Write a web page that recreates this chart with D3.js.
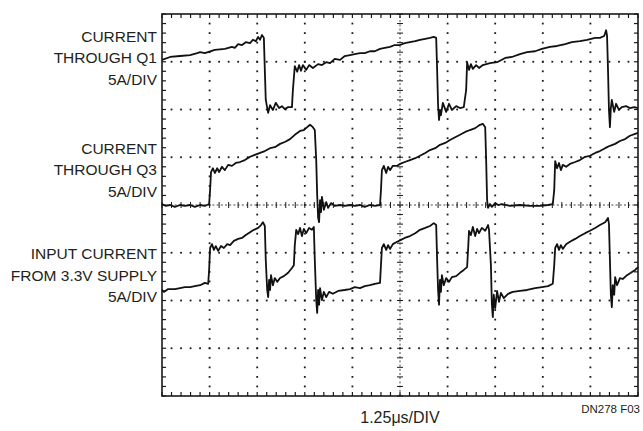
<!DOCTYPE html>
<html><head><meta charset="utf-8">
<script src="https://cdn.jsdelivr.net/npm/d3@7"></script>
<style>
html,body{margin:0;padding:0;background:#fff;}
svg{display:block;}
text{font-family:"Liberation Sans Narrow","Liberation Sans",Arial,sans-serif;fill:#231f20;}
</style></head>
<body><svg id="c" width="643" height="431"></svg>
<script>
// Time in divisions (1.25 µs/DIV, 10 divisions), level in divisions from bottom (8 divisions, 5A/DIV)
const xDivs = 10, yDivs = 8, minorPerDiv = 5;

const q1Trace = [[0.00,7.04],[0.17,7.10],[0.38,7.12],[0.59,7.14],[0.74,7.18],[0.80,7.20],[0.90,7.18],[1.11,7.25],[1.32,7.27],[1.47,7.31],[1.53,7.29],[1.60,7.37],[1.68,7.35],[1.76,7.41],[1.85,7.39],[1.91,7.46],[1.97,7.43],[2.02,7.52],[2.06,7.46],[2.10,7.56],[2.14,7.50],
[2.16,6.83],[2.18,6.20],[2.23,5.93],[2.27,6.09],[2.33,5.99],[2.39,6.14],[2.46,6.03],[2.52,6.07],[2.58,6.01],[2.65,6.05],[2.73,6.05],
[2.75,6.41],[2.79,6.91],[2.84,6.79],[2.88,6.93],[2.92,6.81],[2.96,6.93],[3.03,6.83],[3.09,6.93],[3.17,6.87],[3.28,6.95],[3.36,6.93],[3.45,6.99],[3.53,6.97],[3.63,7.06],[3.74,7.04],[3.84,7.12],[3.95,7.14],[4.05,7.16],[4.16,7.18],[4.26,7.18],[4.37,7.22],[4.47,7.22],[4.58,7.27],[4.68,7.29],[4.79,7.31],[4.89,7.35],[5.00,7.35],
[5.10,7.39],[5.21,7.41],[5.32,7.43],[5.42,7.46],[5.53,7.48],[5.63,7.50],[5.71,7.52],[5.76,7.50],
[5.78,6.83],[5.80,6.09],[5.82,5.78],[5.84,5.99],[5.86,5.88],[5.90,6.14],[5.97,5.95],[6.03,6.12],[6.09,5.99],[6.18,6.07],[6.26,6.03],[6.34,6.05],
[6.39,6.41],[6.41,6.99],[6.45,6.83],[6.49,6.95],[6.53,6.85],[6.60,6.93],[6.66,6.87],[6.74,6.93],[6.89,6.97],[7.04,6.99],[7.21,7.08],[7.35,7.10],[7.52,7.16],[7.67,7.20],[7.84,7.22],[7.98,7.27],[8.15,7.31],[8.30,7.33],[8.47,7.37],[8.61,7.41],[8.78,7.43],[8.93,7.46],[9.10,7.50],[9.20,7.50],[9.29,7.54],[9.33,7.66],[9.35,7.54],
[9.37,6.83],[9.39,5.99],[9.41,5.63],[9.43,6.03],[9.45,6.20],[9.50,5.95],[9.54,6.12],[9.60,5.99],[9.66,6.05],[9.75,6.07],[9.83,6.03],[9.92,6.05],[10.00,6.03]];

const q3Trace = [[0.00,4.02],[0.08,3.98],[0.17,4.00],[0.27,3.96],[0.38,4.00],[0.48,3.98],[0.59,4.00],[0.69,3.96],[0.80,4.00],[0.90,3.98],[0.99,4.02],
[1.01,4.31],[1.03,4.69],[1.07,4.77],[1.11,4.67],[1.16,4.77],[1.20,4.69],[1.26,4.80],[1.32,4.73],[1.39,4.84],[1.47,4.82],[1.55,4.88],[1.64,4.90],[1.74,4.94],[1.85,5.01],[1.95,5.05],[2.06,5.09],[2.16,5.13],[2.27,5.19],[2.37,5.21],[2.48,5.28],[2.58,5.32],[2.69,5.38],[2.79,5.47],[2.90,5.55],[2.98,5.57],[3.05,5.63],[3.11,5.68],[3.17,5.63],[3.21,5.57],
[3.24,4.94],[3.26,4.21],[3.28,3.73],[3.30,3.64],[3.32,4.10],[3.34,3.85],[3.36,4.17],[3.40,3.90],[3.45,4.06],[3.49,3.94],[3.55,4.04],[3.63,3.98],[3.74,4.00],[3.84,3.98],[3.95,4.00],[4.05,3.98],[4.16,4.00],[4.26,3.96],[4.37,4.00],[4.47,3.98],[4.58,4.00],
[4.60,4.31],[4.62,4.73],[4.66,4.82],[4.71,4.67],[4.75,4.80],[4.79,4.73],[4.85,4.82],[4.94,4.82],[5.00,4.86],[5.10,4.90],[5.21,4.94],[5.32,4.98],[5.42,5.03],[5.53,5.09],[5.63,5.15],[5.74,5.19],[5.84,5.26],[5.95,5.30],[6.05,5.36],[6.16,5.42],[6.26,5.47],[6.37,5.53],[6.47,5.57],[6.58,5.61],[6.68,5.68],[6.74,5.70],[6.79,5.63],
[6.81,4.94],[6.83,4.10],[6.85,3.94],[6.89,4.02],[6.93,3.96],[7.00,4.04],[7.06,4.00],[7.14,4.02],[7.31,3.98],[7.52,4.00],[7.73,3.98],[7.94,3.98],[8.11,4.00],[8.21,4.02],
[8.24,4.31],[8.26,4.92],[8.30,4.77],[8.34,4.88],[8.38,4.73],[8.42,4.84],[8.49,4.80],[8.57,4.86],[8.68,4.90],[8.78,4.94],[8.89,5.01],[8.99,5.03],[9.10,5.09],[9.20,5.13],[9.31,5.19],[9.41,5.24],[9.52,5.28],[9.62,5.34],[9.73,5.38],[9.83,5.45],[9.94,5.49],[10.00,5.51]];

const inputTrace = [[0.00,2.22],[0.04,2.18],[0.13,2.24],[0.27,2.24],[0.38,2.26],[0.48,2.28],[0.59,2.28],[0.69,2.30],[0.80,2.32],[0.90,2.37],[0.97,2.35],
[0.99,2.64],[1.01,3.10],[1.05,3.18],[1.09,3.06],[1.13,3.14],[1.18,3.04],[1.24,3.14],[1.30,3.10],[1.37,3.18],[1.43,3.16],[1.51,3.25],[1.60,3.29],[1.68,3.31],[1.76,3.37],[1.85,3.43],[1.93,3.48],[2.02,3.52],[2.08,3.58],[2.12,3.64],[2.16,3.56],
[2.18,2.85],[2.21,2.22],[2.23,2.07],[2.25,2.43],[2.27,2.22],[2.29,2.53],[2.33,2.32],[2.37,2.47],[2.42,2.39],[2.48,2.47],[2.56,2.51],[2.65,2.58],[2.73,2.68],[2.77,2.74],
[2.79,3.16],[2.82,3.48],[2.86,3.39],[2.90,3.52],[2.94,3.35],[2.98,3.50],[3.03,3.41],[3.09,3.52],[3.15,3.48],[3.19,3.54],
[3.21,2.85],[3.24,2.01],[3.26,1.74],[3.28,2.22],[3.30,1.91],[3.32,2.26],[3.36,2.01],[3.40,2.18],[3.45,2.07],[3.51,2.18],[3.59,2.14],[3.70,2.20],[3.84,2.22],[3.95,2.24],[4.05,2.28],[4.16,2.26],[4.26,2.30],[4.37,2.32],[4.47,2.35],[4.58,2.37],
[4.60,2.74],[4.62,3.10],[4.66,3.18],[4.71,3.06],[4.75,3.16],[4.79,3.08],[4.85,3.18],[4.94,3.23],[5.02,3.27],[5.10,3.31],[5.21,3.35],[5.32,3.41],[5.42,3.48],[5.53,3.52],[5.63,3.56],[5.71,3.62],[5.76,3.58],
[5.78,2.85],[5.80,2.22],[5.82,1.91],[5.84,2.43],[5.86,2.18],[5.88,2.53],[5.92,2.32],[5.97,2.47],[6.03,2.39],[6.09,2.49],[6.18,2.51],[6.26,2.58],[6.34,2.64],[6.41,2.70],
[6.43,3.06],[6.45,3.46],[6.49,3.37],[6.53,3.54],[6.58,3.35],[6.62,3.50],[6.66,3.41],[6.72,3.52],[6.79,3.46],[6.85,3.58],[6.87,3.48],
[6.91,2.74],[6.93,1.91],[6.95,1.65],[6.97,2.12],[7.00,1.84],[7.04,2.20],[7.08,1.97],[7.12,2.16],[7.18,2.05],[7.27,2.14],[7.37,2.18],[7.52,2.20],[7.67,2.22],[7.84,2.26],[7.98,2.28],[8.11,2.30],[8.21,2.35],
[8.24,2.74],[8.26,3.10],[8.30,3.18],[8.34,3.06],[8.38,3.16],[8.42,3.08],[8.49,3.18],[8.57,3.23],[8.68,3.29],[8.78,3.35],[8.89,3.41],[8.99,3.46],[9.10,3.52],[9.20,3.58],[9.31,3.64],[9.37,3.73],[9.39,3.60],
[9.41,2.85],[9.43,2.12],[9.45,1.86],[9.47,2.32],[9.50,2.12],[9.52,2.49],[9.56,2.32],[9.62,2.47],[9.68,2.45],[9.77,2.53],[9.85,2.58],[9.94,2.64],[10.00,2.70]];

const traceLabels = [
  {level: 7.0, lines: ["CURRENT", "THROUGH Q1", "5A/DIV"]},
  {level: 4.65, lines: ["CURRENT", "THROUGH Q3", "5A/DIV"]},
  {level: 2.45, lines: ["INPUT CURRENT", "FROM 3.3V SUPPLY", "5A/DIV"]}
];
const timebaseLabel = "1.25μs/DIV";
const figureCode = "DN278 F03";

const svg = d3.select("#c");
const x = d3.scaleLinear().domain([0, xDivs]).range([162, 638]);
const y = d3.scaleLinear().domain([0, yDivs]).range([396, 14]);
const ink = "#1a1a1a";

const minorX = d3.range(0, xDivs * minorPerDiv + 1).map(i => i / minorPerDiv);
const minorY = d3.range(0, yDivs * minorPerDiv + 1).map(i => i / minorPerDiv);
const g = svg.append("g");

// dotted graticule lines (dots at minor positions)
const innerVert = d3.range(1, xDivs).filter(d => d !== xDivs / 2);
const innerHorz = d3.range(1, yDivs).filter(d => d !== yDivs / 2);
innerVert.forEach(v => {
  g.selectAll(null).data(minorY.slice(1, -1)).join("rect")
    .attr("x", x(v) - 0.9).attr("y", d => y(d) - 0.9).attr("width", 1.8).attr("height", 1.8).attr("fill", ink);
});
innerHorz.forEach(h => {
  g.selectAll(null).data(minorX.slice(1, -1)).join("rect")
    .attr("x", d => x(d) - 0.9).attr("y", y(h) - 0.9).attr("width", 1.8).attr("height", 1.8).attr("fill", ink);
});
// center axes with minor ticks
g.append("line").attr("x1", x(0)).attr("x2", x(xDivs)).attr("y1", y(yDivs/2)).attr("y2", y(yDivs/2))
  .attr("stroke", ink).attr("stroke-width", 1).attr("stroke-dasharray", "2,2.2").attr("opacity", 0.8);
g.append("line").attr("y1", y(0)).attr("y2", y(yDivs)).attr("x1", x(xDivs/2)).attr("x2", x(xDivs/2))
  .attr("stroke", ink).attr("stroke-width", 1).attr("stroke-dasharray", "2,2.2").attr("opacity", 0.8);
g.selectAll(null).data(minorX).join("line")
  .attr("x1", d => x(d)).attr("x2", d => x(d)).attr("y1", y(yDivs/2) - 3).attr("y2", y(yDivs/2) + 3)
  .attr("stroke", ink).attr("stroke-width", 1);
g.selectAll(null).data(minorY).join("line")
  .attr("y1", d => y(d)).attr("y2", d => y(d)).attr("x1", x(xDivs/2) - 3).attr("x2", x(xDivs/2) + 3)
  .attr("stroke", ink).attr("stroke-width", 1);
// frame minor ticks
const tk = 4;
g.selectAll(null).data(minorX).join("line")
  .attr("x1", d => x(d)).attr("x2", d => x(d)).attr("y1", y(yDivs)).attr("y2", y(yDivs) + tk)
  .attr("stroke", ink).attr("stroke-width", 1.2);
g.selectAll(null).data(minorX).join("line")
  .attr("x1", d => x(d)).attr("x2", d => x(d)).attr("y1", y(0)).attr("y2", y(0) - tk)
  .attr("stroke", ink).attr("stroke-width", 1.2);
g.selectAll(null).data(minorY).join("line")
  .attr("y1", d => y(d)).attr("y2", d => y(d)).attr("x1", x(0)).attr("x2", x(0) + tk)
  .attr("stroke", ink).attr("stroke-width", 1.2);
g.selectAll(null).data(minorY).join("line")
  .attr("y1", d => y(d)).attr("y2", d => y(d)).attr("x1", x(xDivs)).attr("x2", x(xDivs) - tk)
  .attr("stroke", ink).attr("stroke-width", 1.2);
// frame
g.append("rect").attr("x", x(0)).attr("y", y(yDivs)).attr("width", x(xDivs) - x(0)).attr("height", y(0) - y(yDivs))
  .attr("fill", "none").attr("stroke", ink).attr("stroke-width", 1.6);

// traces
const line = d3.line().x(d => x(d[0])).y(d => y(d[1]));
[q1Trace, q3Trace, inputTrace].forEach(tr => {
  svg.append("path").datum(tr).attr("d", line).attr("fill", "none")
    .attr("stroke", "#111").attr("stroke-width", 1.8).attr("stroke-linejoin", "round");
});

// labels
const lineGap = 21.3;
traceLabels.forEach(lab => {
  const t = svg.append("text").attr("text-anchor", "end").attr("font-size", 15.5);
  lab.lines.forEach((s, i) => {
    t.append("tspan").attr("x", 157).attr("y", y(lab.level) + (i - 1) * lineGap + 1.5).text(s);
  });
});
svg.append("text").attr("x", x(xDivs/2)).attr("y", 423).attr("text-anchor", "middle")
  .attr("font-size", 16).text(timebaseLabel);
svg.append("text").attr("x", 640).attr("y", 413).attr("text-anchor", "end")
  .attr("font-size", 11.5).text(figureCode);
</script></body></html>
